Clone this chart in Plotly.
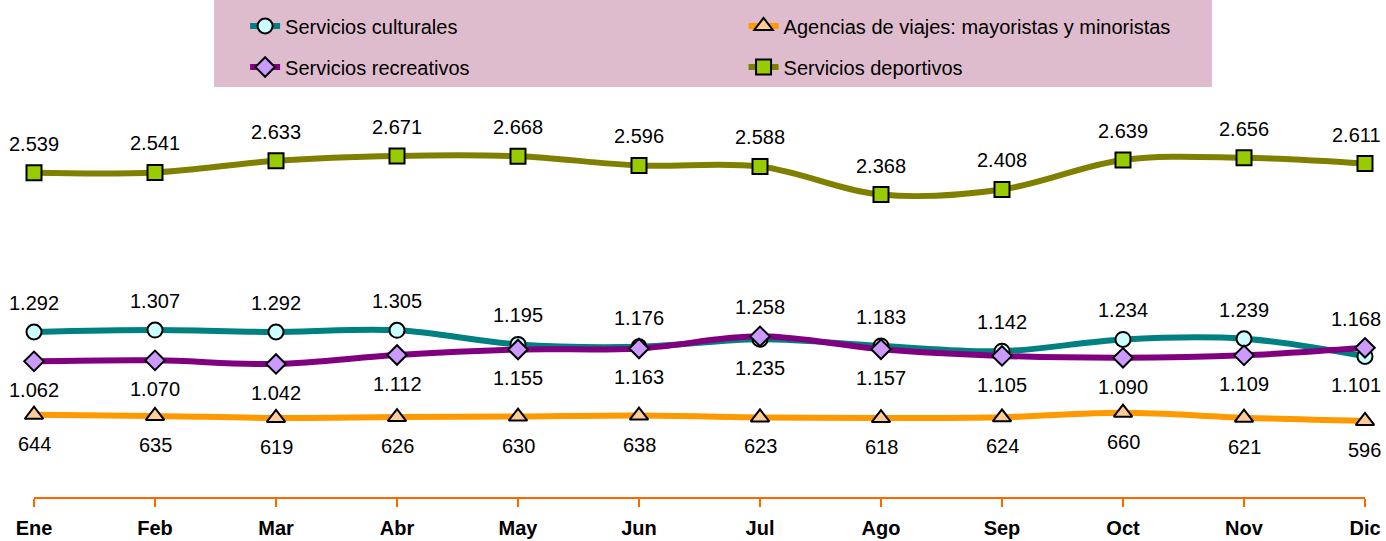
import plotly.graph_objects as go

meses = ["Ene", "Feb", "Mar", "Abr", "May", "Jun", "Jul", "Ago", "Sep", "Oct", "Nov", "Dic"]
culturales = [1292, 1307, 1292, 1305, 1195, 1176, 1235, 1183, 1142, 1234, 1239, 1101]
recreativos = [1062, 1070, 1042, 1112, 1155, 1163, 1258, 1157, 1105, 1090, 1109, 1168]
agencias = [644, 635, 619, 626, 630, 638, 623, 618, 624, 660, 621, 596]
deportivos = [2539, 2541, 2633, 2671, 2668, 2596, 2588, 2368, 2408, 2639, 2656, 2611]

FONT = "Liberation Sans, Arial, sans-serif"


def fmt(v):
    return f"{v:,}".replace(",", ".")


fig = go.Figure()

# (name, values, line colour, symbol, fill, size, label side overrides, default side, legend)
series = [
    ("Servicios culturales", culturales, "#008080", "circle", "#ccffff", 15,
     {6: -1, 11: -1}, 1, "legend"),
    ("Agencias de viajes: mayoristas y minoristas", agencias, "#ff9900", "triangle-up", "#ffcc99", 16,
     {}, -1, "legend2"),
    ("Servicios recreativos", recreativos, "#800080", "diamond", "#cc99ff", 15,
     {6: 1, 11: 1}, -1, "legend3"),
    ("Servicios deportivos", deportivos, "#808000", "square", "#99cc00", 15,
     {}, 1, "legend4"),
]

annotations = []
for name, vals, lc, sym, fc, sz, overrides, side, leg in series:
    fig.add_trace(go.Scatter(
        x=meses, y=vals, name=name, mode="lines+markers",
        line=dict(color=lc, width=6, shape="spline", smoothing=1.0),
        marker=dict(symbol=sym, size=sz, color=fc, line=dict(color="black", width=2)),
        cliponaxis=False, legend=leg,
    ))
    n = len(vals)
    for i, (m, v) in enumerate(zip(meses, vals)):
        s = overrides.get(i, side)
        last = (i == n - 1)
        annotations.append(dict(
            x=m, y=v, text=fmt(v), showarrow=False,
            xanchor="right" if last else "center",
            xshift=18 if last else 0,
            yanchor="middle", yshift=29 * s,
            font=dict(family=FONT, size=20, color="black"),
        ))

# legend background box
fig.add_shape(type="rect", xref="paper", yref="paper",
              x0=0.1353, x1=0.885, y0=0.917, y1=1.112,
              fillcolor="#dfbccd", line=dict(width=0), layer="below")

legcommon = dict(bgcolor="rgba(0,0,0,0)", borderwidth=0,
                 font=dict(family=FONT, size=20, color="black"),
                 xanchor="left", yanchor="middle", orientation="h")

fig.update_layout(
    width=1386, height=541,
    margin=dict(l=34, r=21, t=50, b=44, autoexpand=False),
    paper_bgcolor="white", plot_bgcolor="white",
    showlegend=True,
    hovermode=False,
    annotations=annotations,
    legend=dict(x=0.1586, y=1.0537, **legcommon),
    legend2=dict(x=0.5331, y=1.0537, **legcommon),
    legend3=dict(x=0.1586, y=0.962, **legcommon),
    legend4=dict(x=0.5331, y=0.962, **legcommon),
    xaxis=dict(
        type="category", range=[0, 11], showgrid=False, zeroline=False,
        showline=True, linecolor="#ff6600", linewidth=2,
        ticks="outside", ticklen=8, tickwidth=2, tickcolor="#ff6600",
        tickfont=dict(family=FONT, size=20, color="black", weight="bold"),
        ticklabelstandoff=4,
    ),
    yaxis=dict(range=[0, 3500], visible=False, showgrid=False, zeroline=False),
)

fig.write_html(
    "out.html",
    config={"displayModeBar": False},
    post_script="document.body.style.margin='0';document.body.style.overflow='hidden';",
)
